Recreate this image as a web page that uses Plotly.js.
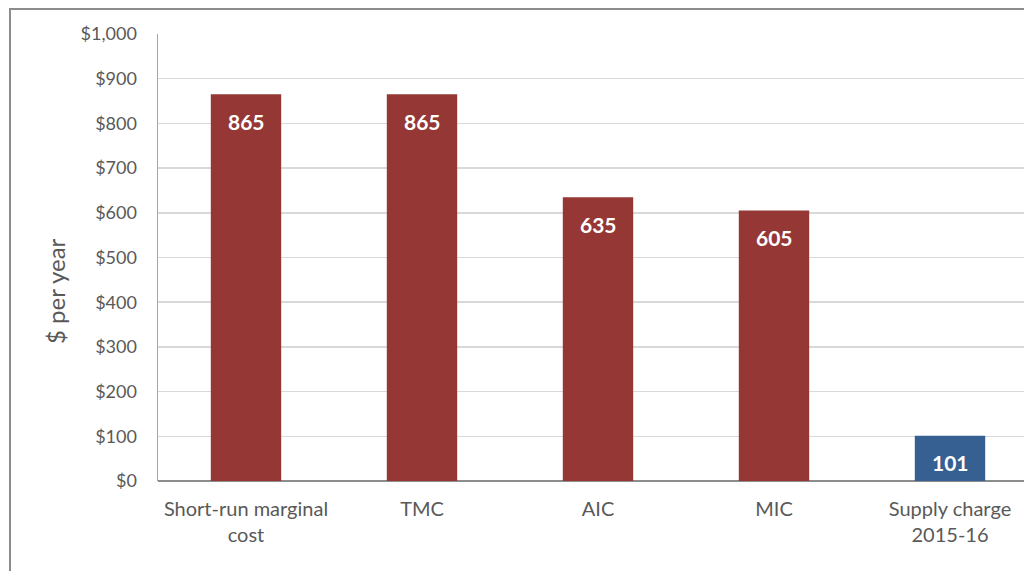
<!DOCTYPE html>
<html>
<head>
<meta charset="utf-8">
<script src="https://cdn.plot.ly/plotly-3.0.1.min.js"></script>
<style>
html,body{margin:0;padding:0;overflow:hidden;background:#fff;width:1024px;height:571px;}
#frame{position:absolute;left:9px;top:8px;width:1100px;height:700px;border:2px solid #8c8c8c;box-sizing:border-box;}
#chart{position:absolute;left:0;top:0;width:1040px;height:571px;}
</style>
</head>
<body>
<div id="frame"></div>
<div id="chart"></div>
<script>
const categories = ["Short-run marginal<br>cost", "TMC", "AIC", "MIC", "Supply charge<br>2015-16"];
const values = [865, 865, 635, 605, 101];
const barColors = ["#953735", "#953735", "#953735", "#953735", "#366092"];
const tickVals = [0, 100, 200, 300, 400, 500, 600, 700, 800, 900, 1000];
const tickText = ["$0", "$100", "$200", "$300", "$400", "$500", "$600", "$700", "$800", "$900", "$1,000"];

const font = "Lato, 'Open Sans', sans-serif";

const trace = {
  type: "bar",
  x: categories,
  y: values,
  width: 0.4,
  marker: {color: barColors},
  hoverinfo: "skip"
};

const annotations = categories.map((c, i) => ({
  x: c, y: values[i], xref: "x", yref: "y",
  text: "<b>" + values[i] + "</b>",
  showarrow: false, yanchor: "middle", yshift: -27,
  font: {family: font, size: 21, color: "#ffffff"}
}));
annotations.push({
  xref: "paper", yref: "paper", x: 0, y: 0.425, xshift: -103,
  text: "$ per year", textangle: -90, showarrow: false,
  xanchor: "center", yanchor: "middle",
  font: {family: font, size: 24, color: "#595959"}
});

const layout = {
  width: 1040, height: 571,
  margin: {l: 158, r: 2, t: 34, b: 90},
  paper_bgcolor: "rgba(0,0,0,0)",
  plot_bgcolor: "#ffffff",
  showlegend: false,
  bargap: 0.6,
  xaxis: {
    type: "category",
    showgrid: false, zeroline: false,
    showline: false,
    ticks: "", ticklabelstandoff: 14,
    tickfont: {family: font, size: 20, color: "#595959"},
    fixedrange: true
  },
  yaxis: {
    range: [0, 1000],
    tickvals: tickVals, ticktext: tickText,
    showgrid: true, gridcolor: "#d9d9d9", gridwidth: 1.5,
    zeroline: true, zerolinecolor: "#8c8c8c", zerolinewidth: 2,
    showline: true, linecolor: "#a6a6a6", linewidth: 1.5,
    ticks: "", ticklabelstandoff: 16,
    tickfont: {family: font, size: 18, color: "#595959"},
    fixedrange: true
  },
  annotations: annotations
};

Plotly.newPlot("chart", [trace], layout, {displayModeBar: false, staticPlot: true});
</script>
</body>
</html>
